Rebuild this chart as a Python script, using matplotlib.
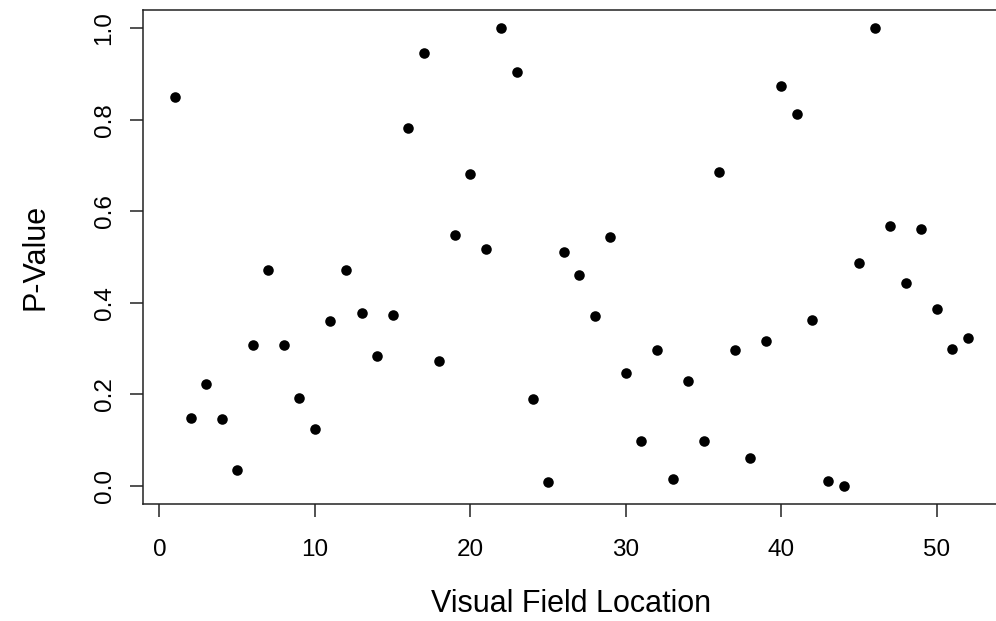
import matplotlib
matplotlib.use("Agg")
import matplotlib.pyplot as plt

# ===== Data =====
locations = list(range(1, 53))
p_values = [
    0.850, 0.149, 0.223, 0.146, 0.034, 0.307, 0.471, 0.307, 0.193, 0.125,
    0.360, 0.471, 0.377, 0.283, 0.374, 0.783, 0.945, 0.273, 0.548, 0.682,
    0.518, 1.000, 0.904, 0.189, 0.008, 0.511, 0.461, 0.371, 0.545, 0.246,
    0.098, 0.297, 0.015, 0.230, 0.098, 0.685, 0.297, 0.061, 0.317, 0.874,
    0.813, 0.363, 0.012, 0.001, 0.488, 1.000, 0.569, 0.444, 0.562, 0.387,
    0.300, 0.324,
]
x_ticks = [0, 10, 20, 30, 40, 50]
y_ticks = [0.0, 0.2, 0.4, 0.6, 0.8, 1.0]
y_tick_labels = ["0.0", "0.2", "0.4", "0.6", "0.8", "1.0"]

plt.rcParams['font.family'] = ['Liberation Sans', 'DejaVu Sans']

W, H = 996, 621
fig = plt.figure(figsize=(W / 100, H / 100), dpi=100)

# axes box in pixels (right edge runs past the image edge, like the original crop)
left_px, right_px, top_px, bottom_px = 143.3, 999.6, 10.0, 504.3
ax = fig.add_axes([left_px / W, 1 - bottom_px / H,
                   (right_px - left_px) / W, (bottom_px - top_px) / H])

ax.plot(locations, p_values, 'o', color='black', markersize=7.6,
        markeredgewidth=0, clip_on=False)

# R-style 4% padding
ax.set_xlim(-1.04, 54.04)
ax.set_ylim(-0.04, 1.04)

for side in ax.spines.values():
    side.set_linewidth(1.1)
    side.set_color('#222222')

ax.set_xticks(x_ticks)
ax.set_yticks(y_ticks)
ax.set_yticklabels(y_tick_labels)
ax.tick_params(axis='both', direction='out', length=9.5, width=1.1,
               color='#222222', labelsize=17.5)
ax.tick_params(axis='x', pad=15.5)
ax.tick_params(axis='y', pad=10.5, labelrotation=90)
for lab in ax.get_yticklabels():
    lab.set_va('center')

fig.text((left_px + right_px) / 2 / W, 1.5 / H, "Visual Field Location",
         ha='center', va='bottom', fontsize=22)
fig.text(36 / W, 1 - (top_px + bottom_px) / 2 / H, "P-Value",
         ha='center', va='center', rotation=90, fontsize=22)

fig.savefig("out.png", dpi=100)
